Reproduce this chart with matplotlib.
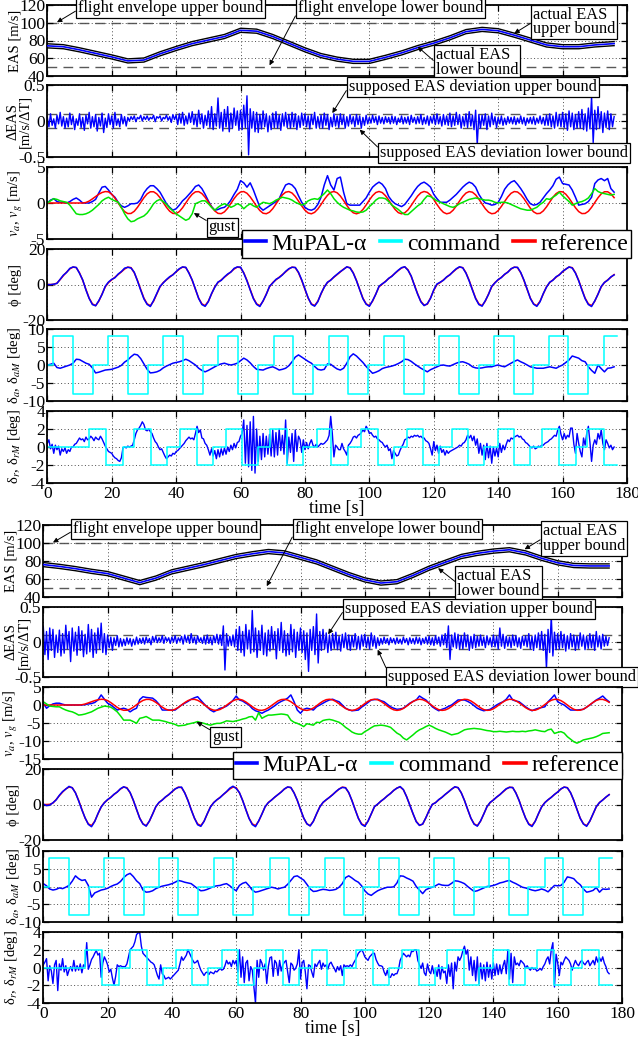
import numpy as np
import matplotlib
matplotlib.use('Agg')
import matplotlib.pyplot as plt
from matplotlib.lines import Line2D
from matplotlib.ticker import FuncFormatter

plt.rcParams['font.family'] = ['Liberation Serif', 'DejaVu Serif']
plt.rcParams['mathtext.fontset'] = 'stix'
plt.rcParams['axes.unicode_minus'] = False

# ---------------- data ----------------
time_1s = np.arange(0, 177)            # 1 s samples, 0..176 s
time_05s = np.arange(0, 353) * 0.5     # 0.5 s samples, 0..176 s
eas_time = [0, 5, 10, 15, 20, 25, 30, 35, 40, 45, 50, 55, 60, 65, 70, 75, 80, 85, 90,
            95, 100, 105, 110, 115, 120, 125, 130, 135, 140, 145, 150, 155, 160, 165, 170, 176]

eas_top = [74, 73, 69.5, 65.5, 61.5, 57, 58, 65, 71, 76.5, 80.5, 84.5, 91.5, 90.5, 84.5, 77, 69.5, 63,
           59, 56.5, 56.5, 61, 66, 72, 77, 83, 90, 92.5, 91, 86, 80.5, 75, 73, 73, 75, 76.5]
eas_bot = [76, 74, 71.5, 68.5, 66, 61, 56, 61, 68, 72, 76, 80.5, 85, 88, 90.5, 89, 84, 79,
           72, 65, 59, 55.5, 57, 64, 72, 78.5, 85, 88.5, 91, 92.5, 89, 83, 78, 75, 74.5, 74.5]

deas_top = [
    .05, -.08, .1, -.06, .03, -.1, .08, -.04, .12, -.07,
    .06, -.1, .04, -.08, .11, -.05, .07, -.12, .03, -.06,
    .1, -.09, .05, -.13, .08, -.04, .12, -.1, .06, -.08,
    .09, -.14, .05, -.07, .11, -.16, .04, -.09, .1, -.05,
    .07, -.1, .12, -.06, .03, -.08, .09, -.04, .06, -.07,
    .05, 0, .06, .02, .07, -.01, .05, .03, .08, 0,
    .06, .02, .07, .01, .05, .03, .08, -.01, .06, .04,
    .07, 0, .05, .03, .08, .01, .06, -.02, .09, .02,
    .08, -.05, .1, -.03, .12, -.06, .07, -.04, .11, -.02,
    .13, -.05, .09, -.08, .15, -.04, .1, -.1, .08, -.06,
    .14, -.09, .2, -.12, .1, -.07, .32, -.1, .12, -.14,
    .16, -.08, .2, -.15, .11, -.1, .18, -.06, .14, -.13,
    .15, -.12, .22, -.09, .35, -.47, .17, -.1, .13, -.15,
    .12, -.16, .09, -.11, .14, -.08, .1, -.15, .07, -.12,
    .11, -.09, .13, -.1, .08, -.13, .1, -.07, .12, -.09,
    .09, -.1, .12, -.08, .1, -.12, .07, -.09, .11, -.06,
    .1, -.08, .07, -.11, .09, -.05, .12, -.1, .06, -.09,
    .08, -.1, .11, -.06, .09, -.12, .05, -.08, .1, -.07,
    .07, -.09, .1, -.05, .08, -.1, .06, -.07, .09, -.04,
    .06, -.08, .09, -.05, .07, -.1, .05, -.06, .08, -.04,
    .05, -.03, .08, -.02, .06, -.05, .07, -.03, .05, -.04,
    .06, -.02, .05, -.04, .07, -.03, .06, -.05, .04, -.02,
    .07, -.04, .05, -.03, .06, -.05, .08, -.02, .05, -.04,
    .06, -.03, .09, -.05, .05, -.04, .07, -.06, .06, -.03,
    .08, -.05, .1, -.04, .06, -.07, .09, -.05, .07, -.06,
    .11, -.08, .07, -.06, .12, -.05, .09, -.1, .06, -.07,
    .1, -.09, .13, -.07, .08, -.12, .15, -.33, .09, -.1,
    .08, -.06, .1, -.12, .07, -.08, .11, -.05, .06, -.09,
    .05, -.04, .07, -.06, .04, -.05, .06, -.03, .05, -.04,
    .06, -.05, .04, -.03, .07, -.04, .05, -.06, .04, -.03,
    .05, -.04, .06, -.05, .04, -.03, .07, -.04, .05, -.06,
    .08, -.06, .1, -.08, .07, -.1, .12, -.07, .09, -.08,
    .12, -.09, .1, -.13, .14, -.08, .11, -.12, .09, -.1,
    .13, -.1, .16, -.12, .1, -.14, .18, -.11, .34, -.3,
    .15, -.12, .2, -.1, .13, -.16, .11, -.09, .14, -.12,
    .1, -.08, .06]
deas_bot = [
    .22, -.18, .15, -.25, .2, -.12, .18, -.22, .1, -.15,
    .17, -.2, .12, -.16, .24, -.1, .15, -.28, .2, -.13,
    .14, -.19, .22, -.12, .16, -.21, .11, -.17, .25, -.14,
    .18, -.22, .13, -.16, .2, -.1, .27, -.15, .12, -.18,
    .1, -.08, .07, -.12, .06, -.05, .09, -.07, .05, -.06,
    .04, -.05, .06, -.03, .05, -.06, .04, -.04, .07, -.03,
    .05, -.02, .06, -.03, .07, -.01, .05, -.04, .08, 0,
    .08, -.01, .06, 0, .09, -.02, .07, .01, .06, -.02,
    .07, 0, .09, -.02, .06, .01, .08, -.03, .1, 0,
    .08, -.02, .12, -.01, .07, -.03, .09, 0, .06, -.02,
    .08, -.03, .1, -.02, .07, -.04, .09, -.01, .11, -.03,
    .1, -.05, .23, -.4, .12, -.06, .08, -.05, .1, -.07,
    .18, -.12, .22, -.15, .15, -.2, .25, -.1, .17, -.16,
    .45, -.14, .2, -.22, .16, -.12, .24, -.18, .13, -.2,
    .17, -.13, .22, -.1, .15, -.24, .19, -.12, .28, -.15,
    .16, -.2, .12, -.18, .25, -.14, .18, -.22, .14, -.12,
    .2, -.15, .16, -.25, .13, -.42, .18, -.12, .22, -.18,
    .4, -.3, .15, -.12, .18, -.1, .13, -.15, .1, -.12,
    .12, -.09, .14, -.11, .08, -.13, .11, -.08, .13, -.1,
    .1, -.12, .09, -.07, .12, -.1, .08, -.11, .1, -.06,
    .11, -.08, .07, -.1, .13, -.06, .09, -.09, .06, -.05,
    .05, -.03, .07, -.02, .05, -.04, .06, -.01, .05, -.03,
    .06, -.02, .04, -.03, .07, -.01, .05, -.04, .06, -.02,
    .05, -.03, .07, -.02, .06, -.04, .05, -.02, .07, -.03,
    .08, -.04, .06, -.05, .09, -.03, .07, -.06, .1, -.04,
    .12, -.08, .23, -.25, .1, -.07, .13, -.09, .11, -.1,
    .09, -.1, .13, -.07, .1, -.12, .08, -.09, .11, -.08,
    .08, -.06, .1, -.05, .07, -.08, .09, -.04, .06, -.07,
    .1, -.07, .08, -.1, .2, -.06, .11, -.09, .08, -.06,
    .07, -.08, .1, -.05, .09, -.07, .06, -.09, .08, -.05,
    .09, -.07, .12, -.1, .08, -.12, .1, -.08, .13, -.1,
    .15, -.12, .11, -.38, .18, -.15, .37, -.2, .14, -.11,
    .12, -.1, .15, -.08, .11, -.13, .09, -.1, .12, -.07,
    .1, -.12, .08, -.09, .13, -.06, .1, -.11, .08, -.09,
    .12, -.08, .1, -.12, .15, -.07, .09, -.1, .11, -.06,
    .08, -.05, .06]

va_top = [
    0, .4, .6, .2, .1, .1, 0, .2, .5, .7,
    .4, 0, 0, 0, .2, .5, 1.4, 2.2, 2.3, 1.8,
    1.2, .8, .1, -.4, -.6, -.4, -.1, -.1, 0, .5,
    1.4, 2, 2.4, 2.4, 2, 1.5, .7, -.1, -.6, -1,
    -.8, -.3, .3, .7, 1.2, 1.7, 2.3, 2.5, 2, 1.2,
    .3, -.5, -1, -.9, -.7, -.6, -.2, .4, 1.2, 1.9,
    3.1, 2.8, 2.2, 2.8, 1.8, .6, -.6, -1, -.7, -.4,
    -.1, .2, .6, 1.6, 2.5, 2.7, 2.5, 2, 1, .1,
    -.6, -.9, -1, -.8, -.2, .8, 2.5, 3.8, 2.5, 1.8,
    3.4, 3.6, 1.5, -.1, -.3, -.3, -.3, -.3, .2, .7,
    1.5, 2.2, 2.6, 2.9, 2.6, 2, .9, .3, -.1, -.3,
    -.5, -.2, .4, 1, 1.7, 2.3, 2.7, 2.9, 2.6, 2.2,
    1.2, .6, .1, .1, .1, .4, .8, 1.2, 1.7, 2.2,
    2.6, 2.9, 2.7, 2.2, 1.2, .5, 0, -.1, -.3, -.2,
    .1, .9, 1.9, 2.5, 2.9, 3.1, 2.6, 2, 1.3, .5,
    -.1, -.3, -.2, .1, .7, 1.3, 1.8, 2.4, 3.3, 3.6,
    2.7, 2.6, 2.5, 1.8, .8, -.3, -.2, -.1, .2, .8,
    2.7, 3.2, 3.4, 3.1, 3.4, 2, 1.5]
va_bot = [
    .5, -.9, -.2, .3, .5, .5, .2, 0, 0, 0,
    0, 0, 0, .1, .3, .4, .7, 1.4, 2.8, 1.6,
    .5, 0, -.7, -1.4, -1.1, -.9, -1.2, -1.9, -1.3, -.9,
    1.5, 2.3, 2.1, 2, 1.9, 1.2, .2, -1.4, -1.4, -1.4,
    -1.4, -1.4, -.7, 0, .5, 1, 1.6, 2, 2.3, 1.3,
    .3, -.6, -1.4, -1.9, -1.4, -.9, -.7, -.3, .4, 1.3,
    2.5, 1.4, 1.1, .5, 0, -1, -1.6, -1.9, -2.3, -1.8,
    -1.4, -.8, -.2, .5, 1, 1.4, 1.9, 2.8, .9, -1.4,
    -2.3, -1.2, -.9, -1.1, -1.4, -.5, 0, .5, 1, 1.4,
    1.6, 1.2, .9, 0, -.9, -1.3, -1.6, -1.5, -1.4, -.6,
    0, .7, 1.4, 1.5, 1.6, 1.2, .9, .2, -.5, -.9,
    -1.2, -1.1, -.9, -.2, .5, 1, 1.4, 2.5, 1.9, 1.4,
    .5, -.5, -1.1, -1.6, -1.2, -.9, -.4, 0, .7, 1.4,
    1.4, 1.4, 1, .5, -.2, -.9, -1.3, -1.6, -1.4, -1.2,
    -.6, 0, .5, .9, 1.6, 2.8, 1.4, 1.1, .9, .2,
    -.5, -1.1, -1.6, -1.2, -.9, -.7, -.5, .9, 1.8, 2.8,
    .9, .4, 0, -.7, -1.4, -1.4, -1.4, -1.3, -1.2, -.6,
    0, .7, 1.4, 1.9, 2.5, 1.6, .9]

va_reference = [
    0, 0, 0, 0, 0, 0, 0, 0, 0, 0,
    0, 0, .07, .27, .57, .9, 1.22, 1.46, 1.59, 1.55,
    1.22, .67, 0, -.66, -1.19, -1.47, -1.45, -1.15, -.6, .07,
    .73, 1.27, 1.56, 1.56, 1.27, .74, .07, -.6, -1.14, -1.45,
    -1.47, -1.19, -.66, 0, .67, 1.22, 1.55, 1.58, 1.31, .8,
    .14, -.54, -1.1, -1.44, -1.48, -1.23, -.73, -.07, .61, 1.17,
    1.53, 1.59, 1.35, .85, .21, -.47, -1.05, -1.42, -1.49, -1.27,
    -.79, -.14, .54, 1.13, 1.5, 1.59, 1.38, .91, .27, -.41,
    -1, -1.39, -1.5, -1.3, -.84, -.21, .48, 1.07, 1.48, 1.6,
    1.42, .97, .34, -.34, -.95, -1.36, -1.5, -1.34, -.9, -.28,
    .41, 1.02, 1.45, 1.6, 1.45, 1.02, .41, -.28, -.9, -1.34,
    -1.5, -1.36, -.95, -.34, .34, .97, 1.42, 1.6, 1.48, 1.08,
    .48, -.21, -.84, -1.3, -1.5, -1.39, -1, -.41, .27, .91,
    1.38, 1.59, 1.5, 1.13, .54, -.14, -.79, -1.27, -1.49, -1.42,
    -1.05, -.47, .21, .85, 1.35, 1.59, 1.53, 1.17, .61, -.07,
    -.73, -1.23, -1.48, -1.44, -1.1, -.54, .14, .8, 1.31, 1.58,
    1.55, 1.22, .67, 0, -.66, -1.19, -1.47, -1.45, -1.15, -.6,
    .07, .73, 1.27, 1.56, 1.56, 1.27, .74]

gust_top = [
    0, .3, .6, .5, .3, .2, .1, -.3, -.9, -1.5,
    -1.6, -1.6, -1.5, -1.3, -1, -.6, -.2, .3, .6, .8,
    .5, .3, .1, -.6, -1.5, -2.2, -2.6, -2.5, -2.2, -2,
    -1.8, -1.4, -.8, -.1, .3, .5, .2, -.2, -.7, -1.1,
    -1.5, -1.8, -2.1, -2.4, -2.2, -1.5, -.1, .1, .3, .3,
    -.1, -.6, -1, -.6, -.3, -.1, -.3, -.6, -.4, -.1,
    -.3, -.8, -.4, -.1, -.4, -.6, -.2, .1, 0, -.1,
    .1, .4, .6, .8, .7, .6, .4, .1, -.1, -.3,
    -.1, .3, .5, .6, .5, .9, 1.3, 1.8, 1.3, .6,
    .1, -.3, -.6, -.8, -1, -1.1, -1.25, -1.3, -1.25, -1,
    -.5, -.1, .4, .7, .7, .6, .2, -.3, -.6, -.9,
    -1.3, -1.6, -1.6, -1.2, -.8, -.4, -.1, .5, 1, .9,
    .6, .3, .1, -.1, -.3, -.5, -.6, -.4, -.1, .1,
    .3, .5, .6, .7, .6, .5, .4, .4, .3, .1,
    0, .1, .1, 0, -.2, -.4, -.6, -.8, -.9, -1,
    -1, -.8, -.6, -.2, .1, .6, .5, .8, 1.1, 1.5,
    1, .6, .2, -.3, -.1, .1, .2, .4, .7, 1.3,
    2, 1.6, 1.4, 1.3, 1.2, 1.1, 1.2]
gust_bot = [
    .9, .3, -.3, -.4, -.5, -.5, -1, -1.4, -1.7, -1.9,
    -2.3, -2.8, -2.7, -2.5, -2.2, -1.9, -1.4, -.9, -.6, -.3,
    -.4, -.6, -1.2, -1.9, -3, -4.2, -4.2, -4.2, -4.6, -5.1,
    -3.7, -3.5, -3.2, -3.7, -4.2, -4.2, -4.2, -4.4, -4.6, -4.9,
    -5.1, -5.4, -5.8, -5.7, -5.6, -5.3, -5.1, -4.9, -4.6, -4.9,
    -5.1, -5.4, -5.6, -5.3, -5.1, -5.1, -4.8, -4.4, -4.5, -4.6,
    -4.4, -4.2, -3.9, -3.7, -3.3, -3.2, -4.2, -2.1, -3.7, -3.2,
    -2.8, -2.8, -2.7, -2.6, -2.5, -2.6, -2.8, -4.2, -4.8, -5.1,
    -5.5, -6, -5.2, -5.4, -5.6, -4.8, -4.9, -4.3, -4.1, -4,
    -4.2, -4.5, -4.8, -5.4, -6.2, -6.8, -7.5, -7.9, -8.1, -8.1,
    -7.4, -6.9, -6.3, -5.8, -5.7, -5.6, -5.7, -5.9, -6.2, -7,
    -7.8, -8.3, -9.2, -9.7, -9, -8.3, -7.5, -6.9, -6.5, -6,
    -5.6, -6, -6.5, -6.9, -7.2, -7.5, -7.9, -8.3, -8.1, -7.9,
    -7.4, -6.9, -6.7, -6.6, -6.5, -6.6, -6.7, -6.9, -7.1, -7.2,
    -7.4, -7.4, -7.3, -7.4, -7.5, -7.4, -7.3, -7.4, -7.4, -7.3,
    -7.4, -7.2, -7.1, -6.9, -7.1, -7.3, -7.4, -6.9, -6.7, -7.9,
    -7.6, -7.4, -7.8, -8.8, -9.5, -10.2, -10.6, -10.2, -9.7, -9.5,
    -9.3, -9.1, -8.8, -8.4, -7.9, -7.8, -7.7]

phi_reference = [
    0, 0,
    .1, .8, 2.8, 5, 7, 8.8, 9.8, 9.5, 6.6, 2.3, -2.8, -7.7, -10.9, -11.9, -9.4, -5.3, -1.3,
    1.1, 2.6, 4.1, 5.6, 7.1, 8.7, 9.8, 9.5, 6.6, 2.3, -2.8, -7.7, -10.9, -11.9, -9.4, -5.3, -1.3,
    1.1, 2.6, 4.1, 5.6, 7.1, 8.7, 9.8, 9.5, 6.6, 2.3, -2.8, -7.7, -10.9, -11.9, -9.4, -5.3, -1.3,
    1.1, 2.6, 4.1, 5.6, 7.1, 8.7, 9.8, 9.5, 6.6, 2.3, -2.8, -7.7, -10.9, -11.9, -9.4, -5.3, -1.3,
    1.1, 2.6, 4.1, 5.6, 7.1, 8.7, 9.8, 9.5, 6.6, 2.3, -2.8, -7.7, -10.9, -11.9, -9.4, -5.3, -1.3,
    1.1, 2.6, 4.1, 5.6, 7.1, 8.7, 9.8, 9.5, 6.6, 2.3, -2.8, -7.7, -10.9, -11.9, -9.4, -5.3, -1.3,
    .2, 1.8, 3.3, 4.8, 6.3, 7.9, 9.3, 9.9, 8.3, 4.5, -.3, -5.3, -9.5, -11.6, -11.1, -7.5, -3.3, 0,
    1.1, 2.6, 4.1, 5.6, 7.1, 8.7, 9.8, 9.5, 6.6, 2.3, -2.8, -7.7, -10.9, -11.9, -9.4, -5.3, -1.3,
    1.1, 2.6, 4.1, 5.6, 7.1, 8.7, 9.8, 9.5, 6.6, 2.3, -2.8, -7.7, -10.9, -11.9, -9.4, -5.3, -1.3,
    1.1, 2.6, 4.1, 5.6, 7.1, 8.7, 9.8, 9.5, 6.6, 2.3, -2.8, -7.7, -10.9, -11.9, -9.4, -5.3, -1.3,
    1.1, 2.6, 4.1, 5.6]
phi_top = [
    0, -.1,
    .2, .6, 3, 5.3, 6.8, 9.1, 9.9, 9.6, 6.3, 2.6, -3.1, -7.9, -11.3, -12, -9.1, -5.6, -1,
    1.4, 2.9, 3.8, 5.9, 7.3, 9.2, 9.7, 9.3, 6.9, 2, -3.2, -8.1, -11.2, -12.4, -9, -5, -1.1,
    .9, 2.8, 4.4, 5.4, 7.3, 8.9, 9.9, 9.7, 6.3, 2.5, -2.6, -7.9, -11.3, -12.3, -9.7, -5.1, -1.6,
    1.4, 2.3, 4.3, 5.9, 7, 9.1, 9.9, 9.8, 6.4, 2, -3.1, -8, -11.2, -12.4, -9.2, -5.6, -1,
    .8, 2.9, 3.9, 5.4, 7.4, 8.9, 9.7, 9.6, 6.9, 2.6, -2.5, -7.5, -11.2, -12.2, -9.7, -5, -1.5,
    1.3, 2.4, 4.3, 5.8, 7.3, 8.5, 10, 9.3, 6.4, 2.1, -3, -8, -11.1, -12.3, -9.1, -5.5, -1,
    .4, 1.6, 3.5, 4.6, 6.5, 8.1, 9.5, 10, 8, 4.8, -.6, -5.5, -9.8, -11.9, -10.8, -7.8, -3, .3,
    1.3, 2.4, 4.3, 5.4, 7.3, 8.9, 10, 9.4, 6.4, 2, -3.1, -8, -11.3, -12.2, -9.1, -5.6, -1,
    .9, 2.8, 3.9, 5.8, 6.9, 8.9, 9.7, 9.7, 6.8, 2.5, -2.6, -7.9, -11.1, -12.3, -9.7, -5.1, -1.5,
    1.3, 2.4, 4.4, 5.4, 7.4, 8.6, 9.9, 9.3, 6.4, 2.1, -3.1, -8, -11.3, -12.4, -9.2, -5.5, -1.1,
    1.2, 2.4, 4.3, 5.4]
phi_bot = [
    .2, -.6,
    -.3, 1, 2.6, 5.2, 7.3, 8.7, 10.2, 9.4, 6.6, 2, -3, -7.5, -11.2, -12.5, -9.6, -5.1, -1.4,
    1, 2.8, 4, 5.8, 7, 8.9, 10, 9.2, 6.8, 2.4, -2.7, -7.8, -11, -12.2, -9.3, -5.4, -1.2,
    1.2, 2.5, 4.3, 5.5, 7.2, 8.8, 9.6, 9.8, 6.5, 2.2, -3, -7.6, -11.4, -12.3, -9.5, -5.2, -1.4,
    1, 2.7, 3.9, 5.7, 7.3, 9.2, 10.3, 9, 6.7, 2.3, -2.9, -7.9, -11.3, -12.5, -9.2, -5.4, -1.2,
    1.1, 2.5, 4.2, 5.6, 7, 8.8, 9.9, 9.6, 6.5, 2.4, -2.8, -7.6, -10.9, -12.1, -9.5, -5.2, -1.4,
    1.2, 2.7, 4, 5.5, 7.3, 8.7, 9.6, 9.4, 6.8, 2.2, -2.9, -7.8, -11.2, -12.3, -9.4, -5.3, -1.2,
    .2, 1.9, 3.2, 4.9, 6.2, 8, 9.2, 10.1, 8.4, 4.4, -.4, -5.1, -9.7, -11.8, -11, -7.4, -3.4, .1,
    1, 2.8, 4, 5.7, 7.1, 8.6, 10, 9.5, 6.6, 2.3, -2.8, -7.7, -11.1, -12.2, -9.3, -5.4, -1.2,
    1.2, 2.5, 4.2, 5.5, 7.3, 8.9, 9.6, 9.6, 6.4, 2.2, -3, -7.6, -11.2, -12.4, -9.5, -5.2, -1.4,
    1, 2.7, 4, 5.7, 7, 8.8, 9.8, 9.4, 6.7, 2.4, -2.8, -7.8, -11, -12.3, -9.3, -5.3, -1.2,
    1.1, 2.5, 4.2, 5.5]

da_top = [
    0, .2, .5, -.7, -.9, -.6, -.3, 0, .5, 1.6,
    1.5, 1, .5, .2, -.8, -2.2, -2, -1.7, -1.4, -1.3,
    -1.2, -.9, -.6, -.1, .8, 1.4, 2.3, 3, 2.8, 1.8,
    .3, -1.2, -2.2, -2.1, -1.9, -1.5, -.8, -.3, .1, .5,
    .7, .9, 1.2, 1.6, 1.2, .6, 0, -.9, -1.5, -1.9,
    -1.5, -1, -.5, 0, .3, .5, .2, 0, .2, .5,
    1.2, 1.9, 1.4, .6, -.4, -1.2, -1.3, -1.4, -1, -.7,
    -.5, -.9, -1.4, -1.2, -.9, -.2, .9, 2.2, 2.8, 2.2,
    1.6, 1, .5, -.4, -1.2, -1.4, -1.2, .3, .2, -.5,
    -1.1, -1.4, -.9, .5, 2.3, 3.1, 2.5, 1.6, .7, -.4,
    -1.4, -2.3, -2, -1.6, -1, -.7, -.5, -.3, 0, .4,
    .9, 1.6, 1.5, 1, .3, -.3, -.9, -1.4, -1.9, -1.3,
    -.9, -.5, -.1, 0, -.2, -.3, .1, .5, .8, .9,
    .6, .2, -.5, -.8, -.9, -.8, -.6, -.5, -.5, -.2,
    0, -.3, -.5, 0, .5, 1, 1.4, .9, .5, 0,
    -.5, -.7, -.9, -.9, -.9, -.7, -.5, -.7, -.9, -.4,
    0, .7, 1.4, 2.5, 2.2, 1.9, 1.2, .9, -.5, -1.5,
    -2.3, 0, -1, -1.9, -.9, -.8, -.5]
da_bot = [
    .8, .2, -.7, -1, -.8, -.4, -.6, -.2, .3, 1.5,
    3, 2.2, 1.7, 1.9, .3, -3, -1.8, -1.4, -1, -.8,
    -.5, 0, .4, .7, 1.4, 2.5, 3.3, 3.7, 2.8, 1.6,
    .8, -1, -1.6, -1.5, -1.2, -.6, -.2, .1, .3, .5,
    .8, 1.2, 1.7, 1.5, 1.2, 1, .8, .1, -.6, -1.2,
    -1.1, -.8, -.4, 0, .2, .3, .6, .8, .2, -.6,
    -1.2, .3, .9, 1.2, .2, -1, -1.6, -1.4, -1.1, -.8,
    -.5, -.2, -.4, -.7, -.4, -.2, .6, 1.7, 2.8, 3,
    2.4, 1.8, .6, -.7, -1.4, -1.3, -1, -.8, -.9, -1.1,
    -1, -.8, -.2, .8, 2.5, 3, 2.4, 1.7, 1.2, .2,
    -1.2, -2.1, -2.5, -1.8, -1.2, -.8, -.5, -.2, -.2, -.1,
    1, 3, 2.9, 2.4, 2, 1.5, 0, -1, -2, -.9,
    -.5, -.2, .2, .7, .4, .3, .3, .9, 1.6, 1.5,
    1.2, .8, 0, -.7, -1.4, -1.2, -.8, -.4, 0, .1,
    .3, .6, 1, 1.2, 1.5, 1.7, 1.2, .8, .3, -.2,
    -.4, -.7, -1, -1.2, -1, -.7, -1, -1.5, -.6, .3,
    .2, .3, 1.2, 2.7, 2.5, 2.2, 1.2, .5, -.7, -1.6,
    -1.4, -1.1, -.3, -1.6, -.7, -.8, -.7]

dr_top = [
    .4, .8, -.2, .3, -.7, .2, -.3, .1, -.9, -.2,
    -.5, -.1, -.7, -.3, -.5, 0, 0, .3, .4, .7,
    1, .8, .9, .6, 1.1, .8, .9, 1.2, 1, .7,
    1.1, .9, .8, 1.2, .9, .5, .1, -.2, -.5, -.6,
    -.7, -1, -1.2, -1.3, -1.5, -1.6, -1.2, -.1, 0, -.1,
    .1, 0, .1, .2, .8, 1.5, 1.9, 2.1, 2.4, 2.8,
    2.5, 1.9, 1.8, 2, 1.7, 1.5, 1, .6, .4, 0,
    -.3, -.2, -.6, -1, -1.3, -1.1, -.9, -1, -.7, -.8,
    -.5, -.4, -.2, 0, .2, .4, .7, .9, 1.1, .9,
    1, .8, 1.5, 2.3, 1.6, 1.9, 1, .9, .4, .2,
    -.3, -.9, -.2, -1, -.4, -1.3, -.3, -1.1, -.2, -.9,
    -.1, -.8, 0, -.5, .2, -.3, .4, -.1, .5, .6,
    1.2, 1.5, 3, -1.8, 2.4, -2.2, 2.8, -2.6, 3.4, -2.9,
    2, -1.6, 1.2, -1.4, 1.5, -1.1, 1.2, -.8, 1.4, -1,
    1.9, -1.1, 1.6, -.9, 2, -.4, 1.3, -.8, 3, -1.8,
    1.1, -.6, 1.5, -1.6, 1.9, -.5, 1.2, .8, -.6, .8,
    -.3, .5, -.2, .4, .8, .2, 0, .3, 0, .2,
    .4, .3, .4, .6, .8, 1.3, 3.4, 1.5, -1.1, .2,
    0, -.3, -.3, .4, -.2, -.5, -.9, .2, .4, .7,
    1.1, 1.2, 1, 1.3, 1.4, 1.6, 1.9, 1.7, 2.3, 2,
    1.5, 1.6, 1.3, 1.1, 1.2, .9, .8, .6, .5, .2,
    0, .2, -.4, -.2, -1.3, -.4, -.7, -1, -.9, -.4,
    0, .3, .8, .9, 1.1, 1, 1.2, 1.1, 1.3, 1.2,
    1.3, 1.1, 1.2, 1, 1, .7, .6, .4, -.2, -.9,
    .6, -.4, .2, -.7, .1, -.6, -.3, -.9, -.4, -.7,
    -.5, -.4, -.3, -.2, -.1, 0, .2, .1, .4, .5,
    .8, 1.3, 1, 1.3, .7, 1.2, .2, .9, -.7, .4,
    -.9, .2, -1.4, .4, -1.2, .1, -1.8, 0, -1, -.1,
    -1.1, .4, -.6, .2, -.3, .3, .8, .6, 1, .9,
    1.1, 1.2, 1.3, 1.1, 1.2, .9, .8, .5, .4, .2,
    0, -.1, .1, -.2, -.1, .1, 0, .2, .2, .4,
    .5, .6, .8, .9, 1.1, 1.3, 1.2, 1.9, 2.3, 1.4,
    .8, 1.5, .9, 1.3, 1.1, 2.1, 2.1, .3, -.7, 1.5,
    .4, -.5, -1.1, 1, .2, 1.5, 2.3, .5, -1.6, .2,
    .8, .3, 1.5, .9, 1.9, .4, -.3, .8, .4, -.1,
    .2, -.3, 0]
dr_bot = [
    .3, .6, 1, -1.5, .2, -.4, -1.8, .3, .8, -2.6,
    .4, -.3, 1, -.5, .2, -.9, -.3, .1, -.4, .8,
    -.4, .2, -.3, .4, -.6, .3, .1, 2.8, -.2, .3,
    .9, 1.2, 1.6, 1.9, 1.4, 1.6, -1.1, .5, 1.2, .8,
    .3, -.5, -.2, -1.2, -2, -1, .3, .1, .2, .1,
    .1, .1, .4, 1.2, 2, 2.2, 2.4, 2.9, 3.7, 3.9,
    3.9, 2.4, 1.6, 1.4, 1.2, 1, .8, .6, .5, .3,
    -.3, -.9, -1.3, .3, -.7, -.9, -1.3, -1.2, -1.1, -1.3,
    -1.1, -.9, -.7, -.5, -.3, .4, 1.2, .8, 1.1, 1.4,
    2, 1.6, 1.2, .8, .5, .6, .8, .2, -.3, -.6,
    -.9, -.6, -.5, -.8, -.5, -.6, -.7, -.4, -.5, -.3,
    -.1, -.3, -.2, .2, .8, .4, .6, .1, .8, .4,
    .8, -.5, 2, -1.1, 1.2, -1.7, .5, .8, -1.5, .1,
    -.3, -2.2, -4, .8, -1.1, .9, .5, -.3, .4, -1.8,
    .1, 1.1, 1.2, -1, .8, .5, -.9, .8, -.4, .3,
    .6, .8, -.5, -1.7, .5, .3, -.3, -.1, .4, 2,
    -1.3, .5, .8, -.5, -2.4, .3, .2, -.5, -1.1, .4,
    .1, .5, .8, -.2, .5, .1, .3, -.2, .4, .6,
    .2, -.1, -.5, .1, -.3, .2, -.9, .3, .1, .2,
    .1, .3, .1, .5, .8, 1.2, 1.6, 1.8, 2, 1.7,
    1.2, 1, .8, 1.2, 1.4, 1.6, 1.6, .9, .5, .2,
    .2, .1, -.5, -.9, -.3, -1.1, -1.1, -.7, -.9, -.7,
    -.7, -.2, .8, 1.2, 1.6, 1.4, 1.2, 1.4, 1.2, 1.8,
    1.8, 2, 2, .8, .3, -.1, .5, -.6, -.9, .4,
    -.4, -.7, .2, -.7, -.2, -1, .3, -1.3, .1, -.6,
    -.4, -1.8, .3, -1, .5, -2.4, .6, -.4, 1.2, .8,
    1.2, 1.9, 2.4, 1.5, 2, -.3, 1.2, -.9, .8, -1.5,
    1.2, -1.8, .5, -1.3, .3, -1.5, .6, -1.1, .3, -1.3,
    .5, -.9, .4, -.8, .3, -.7, .2, .8, -.7, 2,
    -1.3, 1.6, -1.7, 1.2, .3, .5, .2, .8, .6, .4,
    -.1, .2, -.1, -.3, 0, -.2, -.1, -.4, -.3, -.1,
    -.3, .1, .4, .9, 1.2, .4, 2, 2.8, -2.2, 1.5,
    .5, -.9, .6, .3, .8, 1.2, 1, .8, .4, -.3,
    .3, .8, .4, .2, .6, .8, .5, .3, .6, .8,
    .2, .5, .8, .3, 1.2, .6, 1.1, .7, 1.2, .5,
    .1, -.5, -.7]

# commands (step changes: time, level)
da_cmd_time = [0, 1.9, 7.9, 14.1, 18.9, 25.1, 31.2, 36.0, 42.0, 48.2, 53.1, 59.1, 65.3,
               70.4, 76.3, 82.6, 87.6, 93.5, 99.5, 104.5, 110.7, 117.0, 121.6, 127.7,
               133.9, 138.6, 144.8, 150.7, 155.9, 161.8, 168.0, 173.0, 176.8]
da_cmd_level = [0, 8, -8, 0, 8, -8, 0, 8, -8, 0, 8, -8, 0, 8, -8, 0, 8, -8, 0,
                8, -8, 0, 8, -8, 0, 8, -8, 0, 8, -8, 0, 8, 8]
dr_cmd_time = [0, 13.0, 18.2, 23.4, 27.0, 32.1, 37.2, 41.2, 46.4, 51.3, 55.5, 60.5, 65.5,
               69.3, 74.5, 79.5, 83.6, 88.1, 93.5, 97.4, 102.6, 107.5, 111.6, 116.8,
               121.7, 125.6, 130.7, 135.6, 139.8, 144.9, 149.8, 153.5, 158.9, 164.1,
               167.7, 172.9, 176.8]
dr_cmd_level = [0, 2, -2, 0, 2, -2, 0, 2, -2, 0, 2, -2, 0, 2, -2, 0, 2, -2, 0,
                2, -2, 0, 2, -2, 0, 2, -2, 0, 2, -2, 0, 2, -2, 0, 2, -2, -2]

flight_env = [100, 50]
deas_bounds = [0.1, -0.1]
x_ticks = [0, 20, 40, 60, 80, 100, 120, 140, 160, 180]
legend_labels = ['MuPAL-α', 'command', 'reference']

# ---------------- drawing ----------------
W, H = 638, 1039
fig = plt.figure(figsize=(W / 100, H / 100), dpi=100)

BLUE, RED, GREEN, CYAN = '#0000ff', '#ff0000', '#00e600', '#00ffff'
GRID = dict(ls=(0, (1, 2.5)), color='0.3', lw=0.7)
DASH = dict(ls=(0, (7, 4.5)), color='0.35', lw=1.0, zorder=1.5)
fmt = FuncFormatter(lambda v, p: '%g' % v)


def rect(left, right, top, bottom):
    return [left / W, 1 - bottom / H, (right - left) / W, (bottom - top) / H]


def style(ax, ylim, yticks, xlabels=False):
    ax.set_xlim(0, 180)
    ax.set_ylim(*ylim)
    ax.set_xticks(x_ticks)
    ax.set_yticks(yticks)
    ax.yaxis.set_major_formatter(fmt)
    ax.grid(True, **GRID)
    ax.tick_params(direction='in', top=True, right=True, length=4, width=0.9,
                   labelsize=12.5, pad=1.5)
    ax.tick_params(axis='x', pad=2.5)
    if not xlabels:
        ax.set_xticklabels([])
    for s in ax.spines.values():
        s.set_linewidth(1.3)


def note(ax, text, xy, xytext, relpos):
    ax.annotate(text, xy=xy, xytext=xytext, fontsize=11.8, ha='left', va='center',
                linespacing=0.9,
                bbox=dict(boxstyle='square,pad=0.12', fc='white', ec='black', lw=0.9),
                arrowprops=dict(arrowstyle='-|>', color='black', lw=0.7,
                                mutation_scale=7, shrinkA=0, shrinkB=0, relpos=relpos),
                annotation_clip=False, zorder=10)


def group(left, right, rows, eas, deas, va, gust, phi_b, da_b, dr_b,
          va_lim, va_ticks, label_x, notes, leg_center):
    axs = [fig.add_axes(rect(left, right, t, b)) for t, b in rows]
    a1, a2, a3, a4, a5, a6 = axs
    e = np.asarray(eas, float)
    for lvl in flight_env:
        a1.axhline(lvl, **DASH)
    a1.plot(eas_time, e + 2.3, color='k', lw=1.0, zorder=2)
    a1.plot(eas_time, e - 2.3, color='k', lw=1.0, zorder=2)
    a1.plot(eas_time, e, color=BLUE, lw=1.2, zorder=3)
    style(a1, (40, 120), [40, 60, 80, 100, 120])
    a1.set_ylabel('EAS [m/s]', fontsize=10.5)

    for lvl in deas_bounds:
        a2.axhline(lvl, **DASH)
    a2.plot(time_05s, deas, color=BLUE, lw=1.0, zorder=2)
    style(a2, (-0.5, 0.5), [-0.5, 0, 0.5])
    a2.set_ylabel('ΔEAS\n[m/s/ΔT]', fontsize=10.5, linespacing=0.9)

    a3.plot(time_1s, va, color=BLUE, lw=1.1, zorder=2)
    a3.plot(time_1s, va_reference, color=RED, lw=1.1, zorder=2)
    a3.plot(time_1s, gust, color=GREEN, lw=1.1, zorder=2)
    style(a3, va_lim, va_ticks)
    a3.set_ylabel('$v_a$, $v_g$ [m/s]', fontsize=10.5)

    a4.plot(time_1s, phi_reference, color=RED, lw=1.1, zorder=2)
    a4.plot(time_1s, phi_b, color=BLUE, lw=1.1, zorder=2)
    style(a4, (-20, 20), [-20, 0, 20])
    a4.set_ylabel('ϕ [deg]', fontsize=10.5)

    a5.plot(time_1s, da_b, color=BLUE, lw=1.1, zorder=2)
    a5.step(da_cmd_time, da_cmd_level, where='post', color=CYAN, lw=1.1, zorder=2)
    style(a5, (-10, 10), [-10, -5, 0, 5, 10])
    a5.set_ylabel('δ$_{a}$, δ$_{aM}$ [deg]', fontsize=10.5)

    a6.plot(time_05s, dr_b, color=BLUE, lw=1.0, zorder=2)
    a6.step(dr_cmd_time, dr_cmd_level, where='post', color=CYAN, lw=1.1, zorder=2)
    style(a6, (-4, 4), [-4, -2, 0, 2, 4], xlabels=True)
    a6.set_ylabel('δ$_{r}$, δ$_{rM}$ [deg]', fontsize=10.5)
    a6.set_xlabel('time [s]', fontsize=13, labelpad=-1.5)

    for ax, lx in zip(axs, label_x):
        ax.yaxis.set_label_coords(lx, 0.5)

    for idx, text, xy, xyt, rp in notes:
        note(axs[idx], text, xy, xyt, rp)

    handles = [Line2D([], [], color=BLUE, lw=2.6),
               Line2D([], [], color=CYAN, lw=2.6),
               Line2D([], [], color=RED, lw=2.6)]
    leg = fig.legend(handles, legend_labels, loc='center', bbox_to_anchor=leg_center,
                     ncol=3, fontsize=17, frameon=True, fancybox=False, edgecolor='black',
                     framealpha=1, handlelength=0.9, handletextpad=0.25, columnspacing=0.55,
                     borderpad=0.12, borderaxespad=0)
    leg.get_frame().set_linewidth(1.0)


rows_top = [(5, 76), (85, 157), (167, 239), (249, 320), (329, 401), (411, 483)]
rows_bot = [(525, 597), (607, 677), (687, 759), (769, 840), (851, 922), (932, 1003)]

notes_top = [
    (0, 'flight envelope upper bound', (3, 100.5), (9.5, 116.5), (0, 0.4)),
    (0, 'flight envelope lower bound', (69, 52), (77.8, 116.5), (0, 0.3)),
    (0, 'actual EAS\nupper bound', (145, 88), (150.7, 100.8), (0, 0.5)),
    (0, 'actual EAS\nlower bound', (115, 73), (120.6, 55.2), (0, 0.5)),
    (1, 'supposed EAS deviation upper bound', (88.5, 0.11), (93.6, 0.476), (0, 0.5)),
    (1, 'supposed EAS deviation lower bound', (97, -0.12), (103.3, -0.449), (0, 0.75)),
    (2, 'gust', (45.5, -1.4), (50.1, -3.4), (0, 0.85)),
]
notes_bot = [
    (0, 'flight envelope upper bound', (3, 100.5), (9.2, 115.3), (0, 0.4)),
    (0, 'flight envelope lower bound', (69.5, 52), (78.2, 115.3), (0, 0.3)),
    (0, 'actual EAS\nupper bound', (149.7, 93), (155.3, 105.2), (0, 0.5)),
    (0, 'actual EAS\nlower bound', (122.8, 72), (128.8, 55.2), (0, 0.5)),
    (1, 'supposed EAS deviation upper bound', (88.6, 0.11), (93.8, 0.474), (0, 0.5)),
    (1, 'supposed EAS deviation lower bound', (104, -0.11), (107.3, -0.496), (0, 0.75)),
    (2, 'gust', (47.7, -4.7), (52.5, -8.8), (0, 0.85)),
]

group(47.3, 627, rows_top, eas_top, deas_top, va_top, gust_top, phi_top, da_top, dr_top,
      (-5, 5), [-5, 0, 5], [-0.044, -0.027, -0.038, -0.044, -0.042, -0.042],
      notes_top, (436.5 / W, 1 - 244 / H))
group(43.3, 622, rows_bot, eas_bot, deas_bot, va_bot, gust_bot, phi_bot, da_bot, dr_bot,
      (-15, 5), [-15, -10, -5, 0, 5], [-0.045, -0.023, -0.040, -0.040, -0.037, -0.040],
      notes_bot, (427.5 / W, 1 - 765.7 / H))

fig.savefig('out.png', dpi=100)
